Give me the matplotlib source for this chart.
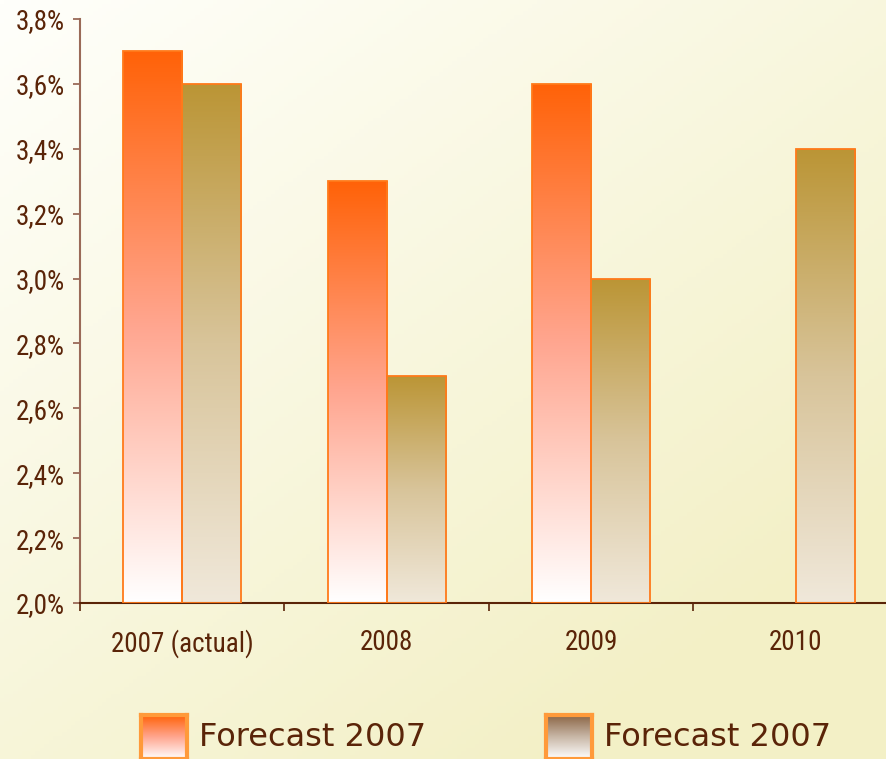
import numpy as np
import matplotlib.pyplot as plt
from matplotlib.colors import LinearSegmentedColormap, to_rgb

categories = ["2007 (actual)", "2008", "2009", "2010"]
series_names = ["Forecast 2007", "Forecast 2007"]
forecast_a = [3.7, 3.3, 3.6, np.nan]
forecast_b = [3.6, 2.7, 3.0, 3.4]
yticks = [2.0, 2.2, 2.4, 2.6, 2.8, 3.0, 3.2, 3.4, 3.6, 3.8]

TEXT = "#5a2408"
EDGE = "#ff7a1a"
grad_a = LinearSegmentedColormap.from_list("a", ["#ff6208", "#ffa690", "#ffffff"])
grad_b = LinearSegmentedColormap.from_list("b", ["#bb9535", "#d8c49a", "#f0e8da"])
leg_b = LinearSegmentedColormap.from_list("lb", ["#8b6545", "#c9b8a8", "#ffffff"])

W, H = 887, 759
fig = plt.figure(figsize=(W / 100, H / 100), dpi=100)

# background: soft diagonal gradient
bg = fig.add_axes([0, 0, 1, 1])
yy, xx = np.mgrid[0:1:200j, 0:1:200j]
t = np.clip(0.55 * xx + 0.65 * yy, 0, 1)[..., None]
c0 = np.array(to_rgb("#fffffb"))
c1 = np.array(to_rgb("#f3f0c6"))
bg.imshow(c0 + (c1 - c0) * t, extent=[0, 1, 0, 1], aspect="auto", origin="upper")
bg.axis("off")

ax = fig.add_axes([80 / W, 156 / H, 818 / W, 584 / H])
ax.patch.set_alpha(0)

x = np.arange(len(categories))
bw = 0.289
for vals, off, cmap in [(forecast_a, -bw / 2, grad_a), (forecast_b, bw / 2, grad_b)]:
    bars = ax.bar(x + off, np.array(vals) - 2.0, bw, bottom=2.0,
                  facecolor="none", edgecolor=EDGE, linewidth=1.3, zorder=3)
    for b, v in zip(bars, vals):
        if np.isnan(v):
            continue
        g = cmap(np.linspace(0, 1, 256))[:, None, :3]
        im = ax.imshow(g, extent=[b.get_x(), b.get_x() + bw, 2.0, v],
                       aspect="auto", origin="upper", zorder=2)
        im.set_clip_path(b)

ax.set_xlim(-0.5, len(categories) - 0.5)
ax.set_ylim(2.0, 3.8)

ax.set_yticks(yticks)
ax.set_yticklabels([f"{v:.1f}%".replace(".", ",") for v in yticks])
ax.set_xticks(np.arange(len(categories) + 1) - 0.5)
ax.set_xticklabels([])
ax.set_xticks(x, minor=True)
ax.set_xticklabels(categories, minor=True)

for s in ["top", "right"]:
    ax.spines[s].set_visible(False)
ax.spines["left"].set_color("#9a6a58")
ax.spines["left"].set_linewidth(1.5)
ax.spines["bottom"].set_color("#5a2408")
ax.spines["bottom"].set_linewidth(1.5)

ax.tick_params(axis="y", direction="out", length=5, width=1.3, color="#9a6a58",
               pad=6, labelsize=19.5, labelcolor=TEXT)
ax.tick_params(axis="x", which="major", direction="out", length=6, width=1.2,
               color="#5a2408")
ax.tick_params(axis="x", which="minor", length=0, pad=19, labelsize=19.5,
               labelcolor=TEXT)
for lab in ax.get_yticklabels() + ax.get_xticklabels(minor=True):
    lab.set_fontfamily(["Roboto Condensed", "DejaVu Sans"])
    lab.set_fontstretch("condensed")

# legend
for i, (name, cmap) in enumerate(zip(series_names, [grad_a, leg_b])):
    x0 = [141, 546][i]
    sw = fig.add_axes([x0 / W, 0, 46 / W, 44 / H])
    sw.imshow(cmap(np.linspace(0, 1, 256))[:, None, :3], aspect="auto",
              extent=[0, 1, 0, 1])
    sw.set_xticks([])
    sw.set_yticks([])
    for s in sw.spines.values():
        s.set_color("#ff9a3a")
        s.set_linewidth(3)
    fig.text((x0 + 58) / W, 1 - 738 / H, name, fontsize=23, color=TEXT,
             va="center", ha="left", family="DejaVu Sans")

fig.savefig("out.png", dpi=100)
